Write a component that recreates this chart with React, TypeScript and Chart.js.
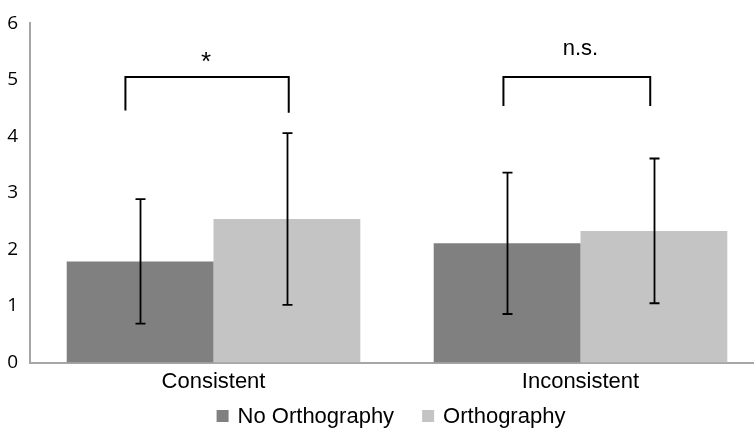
import React, { useEffect, useRef } from "react";
import { Chart, registerables } from "chart.js";

Chart.register(...registerables);

const categories = ["Consistent", "Inconsistent"];
const seriesNames = ["No Orthography", "Orthography"];
const noOrthography = [1.79, 2.11];
const orthography = [2.54, 2.33];
const noOrthographyError = [1.1, 1.25];
const orthographyError = [1.52, 1.28];
const yMin = 0;
const yMax = 6;
const yStep = 1;

const bracketLabels = ["*", "n.s."];
const bracketLabelSizes = [26, 22];
const bracketStart = [-0.24, 0.79];
const bracketEnd = [0.205, 1.19];
const bracketTopValue = [5.05, 5.05];
const bracketStartLeg = [4.46, 4.54];
const bracketEndLeg = [4.42, 4.54];
const bracketLabelX = [-0.02, 1.0];
const bracketLabelY = [5.17, 5.44];

const seriesColors = ["#808080", "#C4C4C4"];
const LABEL_FONT = '"Liberation Sans", Arial, sans-serif';

export default function App() {
  const ref = useRef<HTMLCanvasElement>(null);

  useEffect(() => {
    if (!ref.current) return;
    const errors = [noOrthographyError, orthographyError];

    const errorBars = {
      id: "errorBars",
      afterDatasetsDraw(chart: any) {
        const ctx = chart.ctx;
        const yScale = chart.scales.y;
        ctx.save();
        ctx.strokeStyle = "#000";
        ctx.lineWidth = 1.8;
        chart.data.datasets.forEach((ds: any, di: number) => {
          const meta = chart.getDatasetMeta(di);
          meta.data.forEach((el: any, i: number) => {
            const v = ds.data[i];
            const e = errors[di][i];
            const x = Math.round(el.x) + 0.5;
            const yHi = yScale.getPixelForValue(v + e);
            const yLo = yScale.getPixelForValue(v - e);
            ctx.beginPath();
            ctx.moveTo(x, yHi);
            ctx.lineTo(x, yLo);
            ctx.moveTo(x - 5, yHi);
            ctx.lineTo(x + 5, yHi);
            ctx.moveTo(x - 5, yLo);
            ctx.lineTo(x + 5, yLo);
            ctx.stroke();
          });
        });
        ctx.restore();
      },
    };

    const brackets = {
      id: "brackets",
      afterDatasetsDraw(chart: any) {
        const ctx = chart.ctx;
        const xs = chart.scales.x;
        const ys = chart.scales.y;
        ctx.save();
        ctx.strokeStyle = "#000";
        ctx.lineWidth = 2;
        bracketLabels.forEach((label, i) => {
          const x1 = xs.getPixelForValue(bracketStart[i]);
          const x2 = xs.getPixelForValue(bracketEnd[i]);
          const yt = ys.getPixelForValue(bracketTopValue[i]);
          const y1 = ys.getPixelForValue(bracketStartLeg[i]);
          const y2 = ys.getPixelForValue(bracketEndLeg[i]);
          ctx.beginPath();
          ctx.moveTo(x1, y1);
          ctx.lineTo(x1, yt);
          ctx.lineTo(x2, yt);
          ctx.lineTo(x2, y2);
          ctx.stroke();
          ctx.fillStyle = "#000";
          ctx.font = `${bracketLabelSizes[i]}px ${LABEL_FONT}`;
          ctx.textAlign = "center";
          ctx.textBaseline = "alphabetic";
          ctx.fillText(
            label,
            xs.getPixelForValue(bracketLabelX[i]),
            ys.getPixelForValue(bracketLabelY[i])
          );
        });
        ctx.restore();
      },
    };

    const legend = {
      id: "customLegend",
      afterDraw(chart: any) {
        const ctx = chart.ctx;
        ctx.save();
        ctx.font = `22px ${LABEL_FONT}`;
        const box = 12;
        const gap = 9;
        const spacing = 28;
        const widths = chart.data.datasets.map((d: any) => ctx.measureText(d.label).width);
        let total = 0;
        widths.forEach((w: number, i: number) => {
          total += box + gap + w + (i > 0 ? spacing : 0);
        });
        let x = chart.width / 2 + 6 - total / 2;
        const boxTop = chart.height - 18;
        const baseline = chart.height - 5;
        chart.data.datasets.forEach((d: any, i: number) => {
          ctx.fillStyle = d.backgroundColor;
          ctx.fillRect(x, boxTop, box, box);
          ctx.fillStyle = "#000";
          ctx.textAlign = "left";
          ctx.textBaseline = "alphabetic";
          ctx.fillText(d.label, x + box + gap, baseline);
          x += box + gap + widths[i] + spacing;
        });
        ctx.restore();
      },
    };

    const chart = new Chart(ref.current, {
      type: "bar",
      data: {
        labels: categories,
        datasets: [
          { label: seriesNames[0], data: noOrthography, backgroundColor: seriesColors[0] },
          { label: seriesNames[1], data: orthography, backgroundColor: seriesColors[1] },
        ],
      },
      options: {
        responsive: false,
        animation: false,
        layout: { padding: { top: 20, right: 6, bottom: 27, left: 0 } },
        datasets: { bar: { categoryPercentage: 0.8, barPercentage: 1.0, borderWidth: 0 } },
        plugins: { legend: { display: false }, tooltip: { enabled: false } },
        scales: {
          x: {
            grid: { display: false, drawTicks: false },
            border: { display: true, color: "#A6A6A6", width: 2 },
            ticks: { color: "#000", padding: 6, font: { family: LABEL_FONT, size: 22 } },
          },
          y: {
            min: yMin,
            max: yMax,
            grid: { display: false, drawTicks: false },
            border: { display: true, color: "#A6A6A6", width: 2 },
            ticks: {
              stepSize: yStep,
              color: "#000",
              padding: 12,
              font: { family: '"Open Sans", sans-serif', size: 19 },
            },
            afterFit(scale: any) {
              scale.width = 30;
            },
          },
        },
      },
      plugins: [errorBars, brackets, legend],
    } as any);
    return () => chart.destroy();
  }, []);

  return (
    <div
      style={{
        position: "fixed",
        left: 0,
        top: 0,
        width: 754,
        height: 428,
        overflow: "hidden",
        background: "#fff",
      }}
    >
      <canvas ref={ref} width={770} height={428} style={{ display: "block" }} />
    </div>
  );
}
